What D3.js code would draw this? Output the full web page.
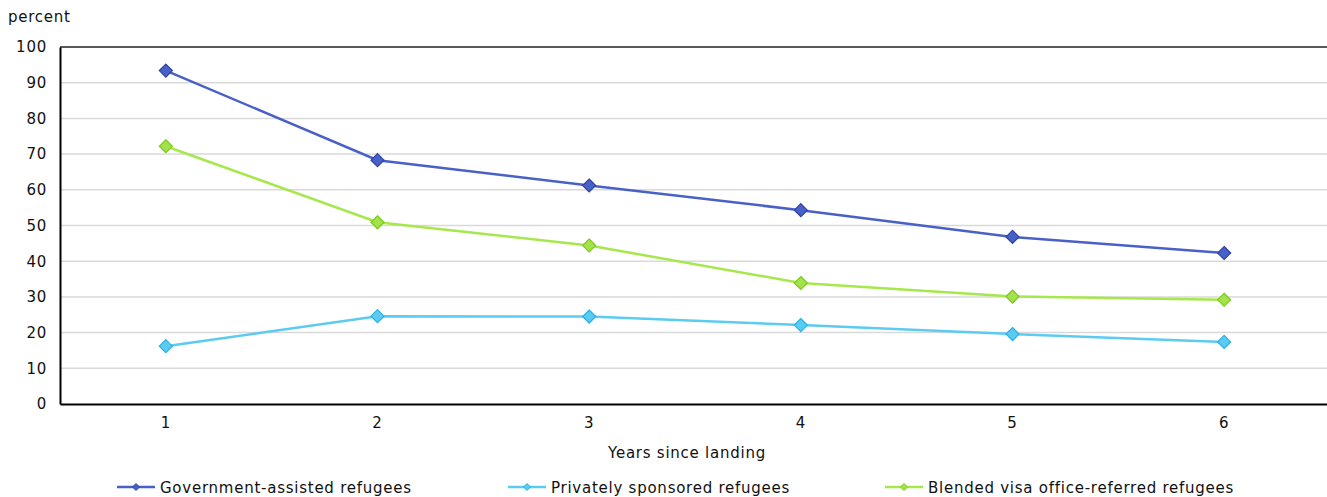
<!DOCTYPE html>
<html>
<head>
<meta charset="utf-8">
<script src="https://cdn.jsdelivr.net/npm/d3@7"></script>
<style>
  html, body { margin: 0; padding: 0; background: #fff; }
  svg { display: block; font-family: "DejaVu Sans", Verdana, sans-serif; }
  svg text { letter-spacing: 0.75px; }
</style>
</head>
<body>
<svg id="chart" width="1327" height="497"></svg>
<script>
// Years since landing
const years = [1, 2, 3, 4, 5, 6];
const yTicks = [0, 10, 20, 30, 40, 50, 60, 70, 80, 90, 100];

// Percent by series
const governmentAssisted = [93.4, 68.3, 61.2, 54.3, 46.8, 42.3];
const privatelySponsored = [16.2, 24.6, 24.5, 22.1, 19.6, 17.4];
const blendedVisa = [72.2, 50.9, 44.4, 33.9, 30.1, 29.2];

const seriesNames = [
  "Government-assisted refugees",
  "Privately sponsored refugees",
  "Blended visa office-referred refugees"
];

const series = [
  { name: seriesNames[0], values: governmentAssisted, line: "#4a60c9", fill: "#4a60c9", stroke: "#2e43a3" },
  { name: seriesNames[1], values: privatelySponsored, line: "#5ccbf1", fill: "#5ccbf1", stroke: "#27b1e6" },
  { name: seriesNames[2], values: blendedVisa, line: "#a6e84c", fill: "#a4e24c", stroke: "#7cca1f" }
];

const svg = d3.select("#chart");
const plotLeft = 60, plotRight = 1330, plotTop = 47, plotBottom = 404;

const x = d3.scaleBand().domain(years).range([plotLeft, plotRight]);
const y = d3.scaleLinear().domain([0, 100]).range([plotBottom, plotTop]);
const cx = d => x(d) + x.bandwidth() / 2;

// Horizontal gridlines
svg.append("g")
  .selectAll("line")
  .data(yTicks.filter(t => t > 0 && t < 100))
  .join("line")
  .attr("x1", plotLeft).attr("x2", 1327)
  .attr("y1", d => y(d)).attr("y2", d => y(d))
  .attr("stroke", "#d9d9d9").attr("stroke-width", 1.5);

// Top border of plot area
svg.append("line")
  .attr("x1", plotLeft).attr("x2", 1327)
  .attr("y1", y(100)).attr("y2", y(100))
  .attr("stroke", "#222").attr("stroke-width", 1.5);

// Y axis
const yAxis = svg.append("g")
  .attr("transform", `translate(${plotLeft},0)`)
  .call(d3.axisLeft(y).tickValues(yTicks).tickSize(0).tickPadding(13));
yAxis.select(".domain").attr("stroke", "#000").attr("stroke-width", 2);
yAxis.selectAll("text").attr("font-size", 15).attr("fill", "#111")
  .attr("font-family", "DejaVu Sans, Verdana, sans-serif");

// X axis
const xAxis = svg.append("g")
  .attr("transform", `translate(0,${plotBottom})`)
  .call(d3.axisBottom(x).tickSize(0).tickPadding(13));
xAxis.select(".domain").attr("stroke", "#000").attr("stroke-width", 2.2);
xAxis.selectAll("text").attr("font-size", 15).attr("fill", "#111")
  .attr("font-family", "DejaVu Sans, Verdana, sans-serif");

// Axis titles
svg.append("text")
  .attr("x", 8).attr("y", 22)
  .attr("font-size", 15).attr("fill", "#111")
  .text("percent");

svg.append("text")
  .attr("x", cx(3) + (cx(4) - cx(3)) / 2 - 8).attr("y", 458)
  .attr("text-anchor", "middle")
  .attr("font-size", 15).attr("fill", "#111")
  .text("Years since landing");

// Lines and markers
const line = d3.line().x((d, i) => cx(years[i])).y(d => y(d));
const diamond = s => `M0,${-s}L${s},0L0,${s}L${-s},0Z`;

series.forEach(s => {
  svg.append("path")
    .datum(s.values)
    .attr("d", line)
    .attr("fill", "none")
    .attr("stroke", s.line)
    .attr("stroke-width", 2.5);

  svg.append("g")
    .selectAll("path")
    .data(s.values)
    .join("path")
    .attr("transform", (d, i) => `translate(${cx(years[i])},${y(d)})`)
    .attr("d", diamond(6.5))
    .attr("fill", s.fill)
    .attr("stroke", s.stroke)
    .attr("stroke-width", 1.2);
});

// Legend
const legendX = [117, 508, 885];
const legendY = 487;
series.forEach((s, i) => {
  const g = svg.append("g").attr("transform", `translate(${legendX[i]},${legendY})`);
  g.append("line")
    .attr("x1", 0).attr("x2", 38).attr("y1", 0).attr("y2", 0)
    .attr("stroke", s.line).attr("stroke-width", 2.5);
  g.append("path")
    .attr("transform", "translate(19,0)")
    .attr("d", diamond(3.5))
    .attr("fill", s.fill).attr("stroke", s.stroke).attr("stroke-width", 1);
  g.append("text")
    .attr("x", 43).attr("y", 5.5)
    .attr("font-size", 15).attr("fill", "#111")
    .text(s.name);
});
</script>
</body>
</html>
